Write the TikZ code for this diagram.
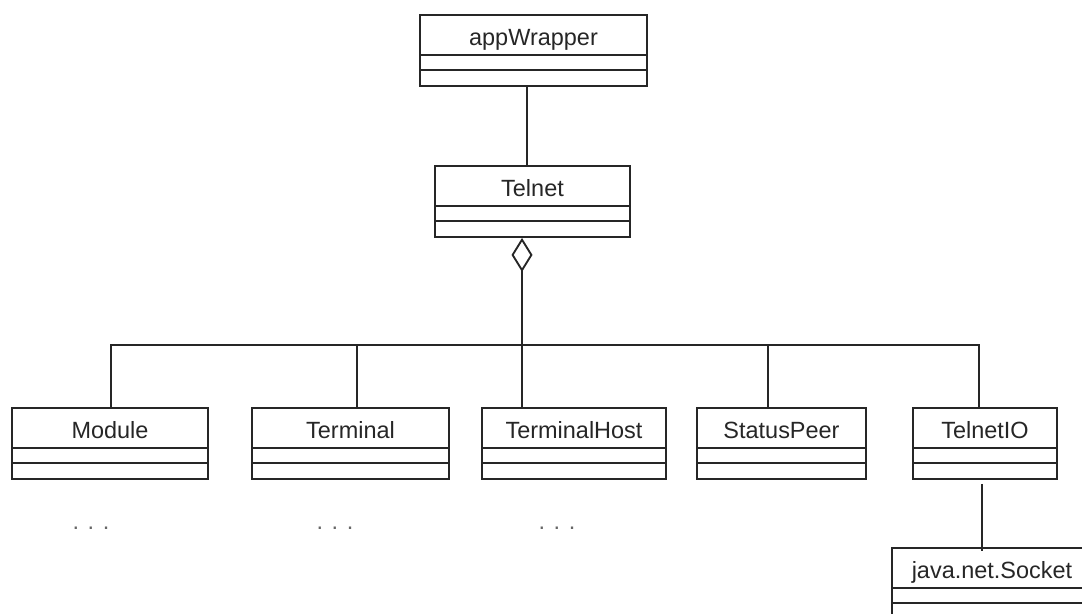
\documentclass[tikz,border=0pt]{standalone}
\usepackage{fontspec}
\setmainfont{Liberation Sans}
\usetikzlibrary{arrows.meta}
\newlength\px
\setlength\px{0.75pt}
\tikzset{
  uml/.style={line width=1.4pt, draw=black!85},
  classbox/.style={draw=black!85, line width=1.4pt, inner sep=0pt,
    minimum width=#1\px, text height=30\px, text depth=41\px,
    font=\fontsize{17.6}{20}\selectfont, text=black!85,
    path picture={
      \draw[line width=1.4pt, black!85]
        ([yshift=-40\px]path picture bounding box.north west) --
        ([yshift=-40\px]path picture bounding box.north east)
        ([yshift=-55\px]path picture bounding box.north west) --
        ([yshift=-55\px]path picture bounding box.north east);
    }},
  moredots/.style={font=\fontsize{17.6}{20}\selectfont, text=black!60, inner sep=0pt},
  aggregation/.style={-{Diamond[open, length=25.5pt, width=15.75pt]}},
}
\begin{document}
\begin{tikzpicture}[x=0.75pt, y=-0.75pt]
  \useasboundingbox (0,0) rectangle (1082,614);
  \clip (0,0) rectangle (1082,614);

  % classes
  \node[classbox=227] (appwrapper)   at (533.5,50.5)  {appWrapper};
  \node[classbox=195] (telnet)       at (532.5,201.5) {Telnet};
  \node[classbox=196] (module)       at (110,443.5)   {Module};
  \node[classbox=197] (terminal)     at (350.5,443.5) {Terminal};
  \node[classbox=184] (terminalhost) at (574,443.5)   {TerminalHost};
  \node[classbox=169] (statuspeer)   at (781.5,443.5) {StatusPeer};
  \node[classbox=144] (telnetio)     at (985,443.5)   {TelnetIO};
  \node[classbox=200] (socket)       at (992,583.5)   {java.net.Socket};

  % elided members
  \node[moredots] (dotsmodule)   at (91,528)  {. . .};
  \node[moredots] (dotsterminal) at (335,528) {. . .};
  \node[moredots] (dotshost)     at (557,528) {. . .};

  % associations
  \draw[uml] ([xshift=-6.5\px]appwrapper.south) --
             ([xshift=-6.5\px]appwrapper.south |- telnet.north);

  \coordinate (bus) at (522,345);
  \draw[uml, aggregation] (bus) -- (bus |- telnet.south);
  \draw[uml] (bus) -| ([xshift=1\px]module.north);
  \draw[uml] (bus) -| ([xshift=6.5\px]terminal.north);
  \draw[uml] (bus) -- (bus |- terminalhost.north);
  \draw[uml] (bus) -| ([xshift=-13.5\px]statuspeer.north);
  \draw[uml] (bus) -| ([xshift=-6\px]telnetio.north);

  \draw[uml] ([xshift=-3\px, yshift=-4\px]telnetio.south) --
             ([xshift=-3\px, yshift=-4\px]telnetio.south |- socket.north);
\end{tikzpicture}
\end{document}
